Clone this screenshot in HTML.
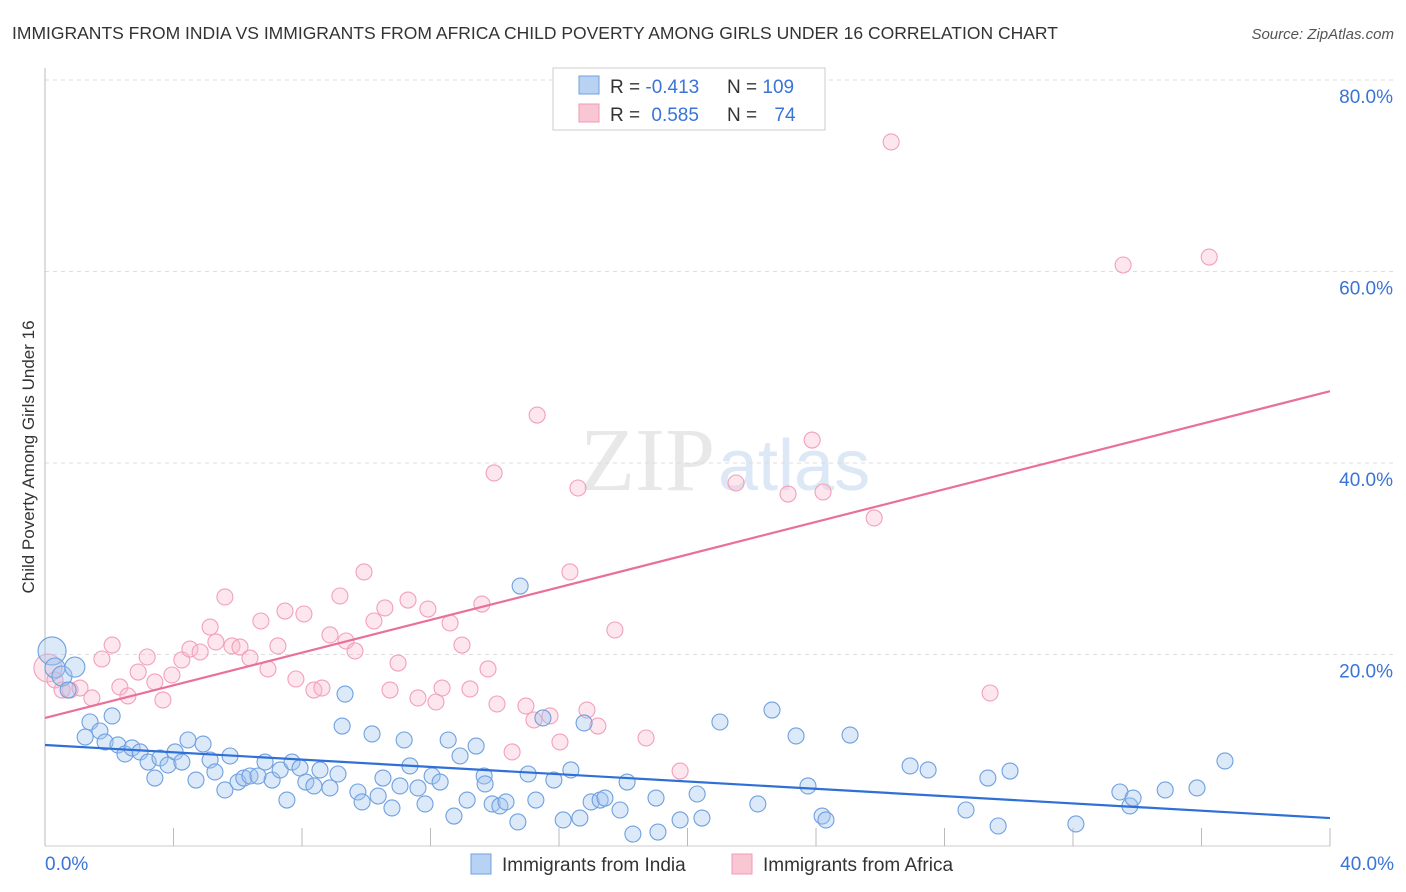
<!DOCTYPE html>
<html><head><meta charset="utf-8"><style>
body{margin:0;background:#fff;font-family:"Liberation Sans",sans-serif;}
svg{display:block}
</style></head><body>
<svg id="chart" width="1406" height="892">
<text x="12" y="39" font-size="17.5" fill="#333">IMMIGRANTS FROM INDIA VS IMMIGRANTS FROM AFRICA CHILD POVERTY AMONG GIRLS UNDER 16 CORRELATION CHART</text>
<text x="1394" y="39" font-size="15" fill="#555" font-style="italic" text-anchor="end">Source: ZipAtlas.com</text>
<text x="715" y="490" font-size="90" fill="#e8e8e8" text-anchor="end" font-family="Liberation Serif,serif">ZIP</text>
<text x="718" y="490" font-size="72" fill="#dde8f6">atlas</text>
<text transform="translate(34,457) rotate(-90)" font-size="17" fill="#333" text-anchor="middle">Child Poverty Among Girls Under 16</text>
<g id="grid"></g><g id="pts"></g><g id="lines"></g>
<g>
<rect x="553" y="68" width="272" height="62" fill="#fff" stroke="#ccc"/>
<rect x="579" y="76" width="20" height="18" fill="#b8d2f4" stroke="#6fa0e0"/>
<rect x="579" y="104" width="20" height="18" fill="#f9c6d4" stroke="#f09ab5"/>
<text x="610" y="93" font-size="19" fill="#333">R = <tspan fill="#3a74d6">-0.413</tspan></text>
<text x="727" y="93" font-size="19" fill="#333">N = <tspan fill="#3a74d6">109</tspan></text>
<text x="610" y="121" font-size="19" fill="#333">R = <tspan fill="#3a74d6" dx="6">0.585</tspan></text>
<text x="727" y="121" font-size="19" fill="#333">N = <tspan fill="#3a74d6" dx="12">74</tspan></text>
</g>
<g>
<rect x="471" y="854" width="20" height="20" fill="#b8d2f4" stroke="#6fa0e0"/>
<text x="502" y="871" font-size="19" fill="#333">Immigrants from India</text>
<rect x="732" y="854" width="20" height="20" fill="#f9c6d4" stroke="#f09ab5"/>
<text x="763" y="871" font-size="19" fill="#333">Immigrants from Africa</text>
</g>
</svg>
<script>
const yTicks=[20,40,60,80];
const xTickLabels=["0.0%","40.0%"];
const indiaX=[0.22,0.31,0.53,0.93,0.72,1.40,1.25,1.71,2.09,1.87,2.27,2.49,2.71,2.96,3.21,3.42,3.58,3.83,4.05,4.26,4.45,4.70,4.92,5.14,5.29,5.60,5.76,6.01,6.19,6.38,6.63,6.85,7.07,7.32,7.53,7.69,7.94,8.12,8.37,8.56,8.87,9.12,9.34,9.25,9.74,9.87,10.18,10.37,10.52,10.80,11.05,11.18,11.36,11.61,11.83,12.05,12.30,12.55,12.73,12.92,13.14,13.42,13.67,13.70,13.92,14.16,14.35,14.72,14.79,15.04,15.28,15.50,15.84,16.13,16.37,16.65,16.78,17.00,17.28,17.43,17.90,18.12,18.30,19.02,19.08,19.77,20.30,20.45,21.01,22.19,22.63,23.38,23.75,24.19,24.31,25.06,26.93,27.49,28.67,29.35,29.67,30.04,32.09,33.46,33.77,33.87,34.87,35.86,36.73];
const indiaY=[20.37,18.59,17.75,18.69,16.29,12.95,11.38,12.01,13.58,10.86,10.55,9.61,10.24,9.82,8.77,7.10,9.19,8.46,9.82,8.77,11.07,6.89,10.65,8.98,7.73,5.85,9.40,6.68,7.10,7.31,7.31,8.77,6.89,7.94,4.80,8.77,8.15,6.68,6.27,7.94,6.06,7.52,15.87,12.53,5.64,4.60,11.70,5.22,7.10,3.97,6.27,11.07,8.36,6.06,4.39,7.31,6.68,11.07,3.13,9.40,4.80,10.44,7.31,6.48,4.39,4.18,4.60,2.51,27.15,7.52,4.80,13.37,6.89,2.72,7.94,2.92,12.85,4.60,4.80,5.01,3.76,6.68,1.25,5.01,1.46,2.72,5.43,2.92,12.95,4.39,14.20,11.49,6.27,3.13,2.72,11.59,8.36,7.94,3.76,7.10,2.09,7.83,2.30,5.64,4.18,5.01,5.85,6.06,8.88];
const africaX=[0.09,0.31,0.53,0.78,1.09,1.46,1.77,2.09,2.33,2.58,2.90,3.18,3.42,3.67,3.95,4.26,4.51,4.83,5.14,5.32,5.60,5.82,6.07,6.38,6.72,6.94,7.25,7.47,7.81,8.06,8.37,8.62,8.87,9.18,9.37,9.65,9.93,10.24,10.58,10.74,10.99,11.30,11.61,11.92,12.17,12.36,12.61,12.98,13.23,13.60,13.79,13.98,14.07,14.54,14.97,15.22,15.32,15.72,16.03,16.34,16.59,16.87,17.21,17.74,18.71,19.77,21.51,23.13,23.88,24.22,25.81,26.34,29.42,33.56,36.24];
const africaY=[18.59,17.34,16.29,16.29,16.50,15.46,19.53,20.99,16.61,15.67,18.17,19.74,17.13,15.25,17.86,19.43,20.57,20.26,22.87,21.31,26.01,20.89,20.78,19.63,23.50,18.49,20.89,24.54,17.44,24.23,16.29,16.50,22.04,26.11,21.41,20.37,28.62,23.50,24.86,16.29,19.11,25.69,15.46,24.75,15.04,16.50,23.29,20.99,16.40,25.27,18.49,38.96,14.83,9.82,14.62,13.16,45.01,13.58,10.86,28.62,37.39,14.20,12.53,22.56,11.28,7.83,37.91,36.76,42.40,36.97,34.26,73.53,15.98,60.68,61.51];
const indiaTrend=[10.55,2.92];
const africaTrend=[13.37,47.5];
const trendX=[0,40];

const NS="http://www.w3.org/2000/svg";
const X0=45,X1=1330,Y0=846,PX=(Y0-80)/80;
const sx=v=>X0+(v/40)*(X1-X0);
const sy=v=>Y0-v*PX;
function mk(tag,attrs,parent){const e=document.createElementNS(NS,tag);for(const k in attrs)e.setAttribute(k,attrs[k]);parent.appendChild(e);return e;}
const grid=document.getElementById('grid');
yTicks.forEach(t=>{
 const l=mk('line',{x1:X0,x2:1394,y1:sy(t),y2:sy(t),stroke:'#ddd','stroke-dasharray':'4,4'},grid);
 
 
 const tx=mk('text',{x:1393,y:sy(t)+23,'font-size':19,fill:'#3a74d6','text-anchor':'end'},grid);
 tx.textContent=t.toFixed(1)+'%';
 
 
});
const ax=mk('line',{x1:X0,x2:X0,y1:68,y2:Y0,stroke:'#bbb'},grid);


const bx=mk('line',{x1:X0,x2:X1,y1:Y0,y2:Y0,stroke:'#ccc'},grid);


for(let i=0;i<=10;i++){
 const t=mk('line',{x1:sx(i*4),x2:sx(i*4),y1:828,y2:Y0,stroke:'#bbb'},grid);
 
 
}
[[0,'start',45],[40,'end',1394]].forEach((d,i)=>{
 const tx=mk('text',{x:d[2],y:870,'font-size':19,fill:'#3a74d6','text-anchor':d[1]},grid);
 tx.textContent=xTickLabels[i];
 
 
});
const pts=document.getElementById('pts');
africaX.forEach((x,i)=>{
 const c=mk('circle',{cx:sx(x),cy:sy(africaY[i]),r:i==0?14:8,fill:'rgba(248,182,202,0.35)',stroke:'#f2a0ba','stroke-width':1.1},pts);
 
 
});
indiaX.forEach((x,i)=>{
 const c=mk('circle',{cx:sx(x),cy:sy(indiaY[i]),r:i==0?14:(i<4?10:8),fill:'rgba(160,196,240,0.38)',stroke:'#6fa0e0','stroke-width':1.1},pts);
 
 
});
const lines=document.getElementById('lines');
const lb=mk('line',{x1:sx(trendX[0]),x2:sx(trendX[1]),y1:sy(indiaTrend[0]),y2:sy(indiaTrend[1]),stroke:'#2f6fd6','stroke-width':2.2},lines);


const lp=mk('line',{x1:sx(trendX[0]),x2:sx(trendX[1]),y1:sy(africaTrend[0]),y2:sy(africaTrend[1]),stroke:'#e8709a','stroke-width':2.2},lines);


</script>
</body></html>
